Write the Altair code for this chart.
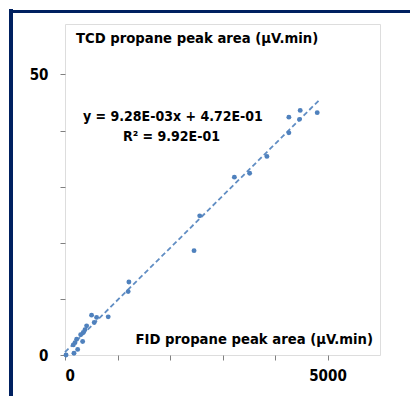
import altair as alt
import pandas as pd

fid_area = [4264, 4480, 4804, 4467, 4264, 3846, 3517, 3226, 2566, 2458,
            1217, 1203, 506, 602, 823, 557, 412, 380, 348, 298, 336, 222,
            190, 158, 241, 171, 20]
tcd_area = [42.4, 43.6, 43.2, 42.0, 39.6, 35.4, 32.4, 31.7, 24.8, 18.6,
            13.0, 11.3, 7.1, 6.7, 6.8, 5.8, 5.2, 4.5, 4.0, 3.6, 2.4, 2.8,
            2.2, 1.8, 1.0, 0.3, 0.0]
trend_x = [0, 4850]
trend_y = [0.5, 45.5]
x_ticks = [0, 1000, 2000, 3000, 4000, 5000]
y_ticks = [0, 10, 20, 30, 40, 50]

pts = pd.DataFrame({"x": fid_area, "y": tcd_area})
trend = pd.DataFrame({"x": trend_x, "y": trend_y})

FONT = "DejaVu Sans Condensed, Liberation Sans, sans-serif"
FS = 14
FS_T = 14.7
FS_AX = 15
BLUE = "#4f81bd"
NAVY = "#002060"

xscale = alt.Scale(domain=[0, 6000], nice=False, zero=False)
yscale = alt.Scale(domain=[0, 59], nice=False, zero=False)

xaxis = alt.Axis(values=x_ticks, labelExpr="datum.value == 0 || datum.value == 5000 ? datum.label : ''",
                 format="d", grid=False, domain=False, tickColor="#808080", tickSize=5,
                 labelFont=FONT, labelFontSize=FS_AX, labelFontWeight="bold", labelColor="black",
                 labelPadding=8, title=None)
yaxis = alt.Axis(values=y_ticks, labelExpr="datum.value == 0 || datum.value == 50 ? datum.label : ''",
                 grid=False, domain=False, tickColor="#808080", tickSize=5,
                 labelFont=FONT, labelFontSize=FS_AX, labelFontWeight="bold", labelColor="black",
                 labelPadding=12, title=None)

points = alt.Chart(pts).mark_circle(size=24, color=BLUE, opacity=1).encode(
    x=alt.X("x:Q", scale=xscale, axis=xaxis),
    y=alt.Y("y:Q", scale=yscale, axis=yaxis),
)

line = alt.Chart(trend).mark_line(color=BLUE, strokeDash=[5, 3], strokeWidth=1.8, opacity=0.9).encode(
    x=alt.X("x:Q", scale=xscale),
    y=alt.Y("y:Q", scale=yscale),
)

def txt(s, x, y, align="left", size=FS):
    return alt.Chart(pd.DataFrame({"t": [s]})).mark_text(
        font=FONT, fontSize=size, fontWeight="bold", color="black", align=align, baseline="middle"
    ).encode(text="t:N", x=alt.value(x), y=alt.value(y))

title_t = txt("TCD propane peak area (µV.min)", 11, 15, size=FS_T)
eq1 = txt("y = 9.28E-03x + 4.72E-01", 18, 93)
eq2 = txt("R² = 9.92E-01", 58, 113)
fid_t = txt("FID  propane peak area (µV.min)", 308, 316, align="right", size=FS_T)

navy_left = alt.Chart(pd.DataFrame({"a": [0]})).mark_rule(color=NAVY, strokeWidth=4).encode(
    x=alt.value(-54), y=alt.value(-15), y2=alt.value(380))
navy_top = alt.Chart(pd.DataFrame({"a": [0]})).mark_rule(color=NAVY, strokeWidth=3).encode(
    x=alt.value(-56), x2=alt.value(360), y=alt.value(-12.5))

chart = alt.layer(navy_left, navy_top, line, points, title_t, eq1, eq2, fid_t).properties(
    width=315, height=331,
    autosize=alt.AutoSizeParams(type="none"),
    padding={"left": 57, "top": 16, "right": 30, "bottom": 50},
).configure_view(stroke="#222222", strokeWidth=1).configure(background="white")

chart.save("out.html", embed_options={"renderer": "svg", "actions": False})
